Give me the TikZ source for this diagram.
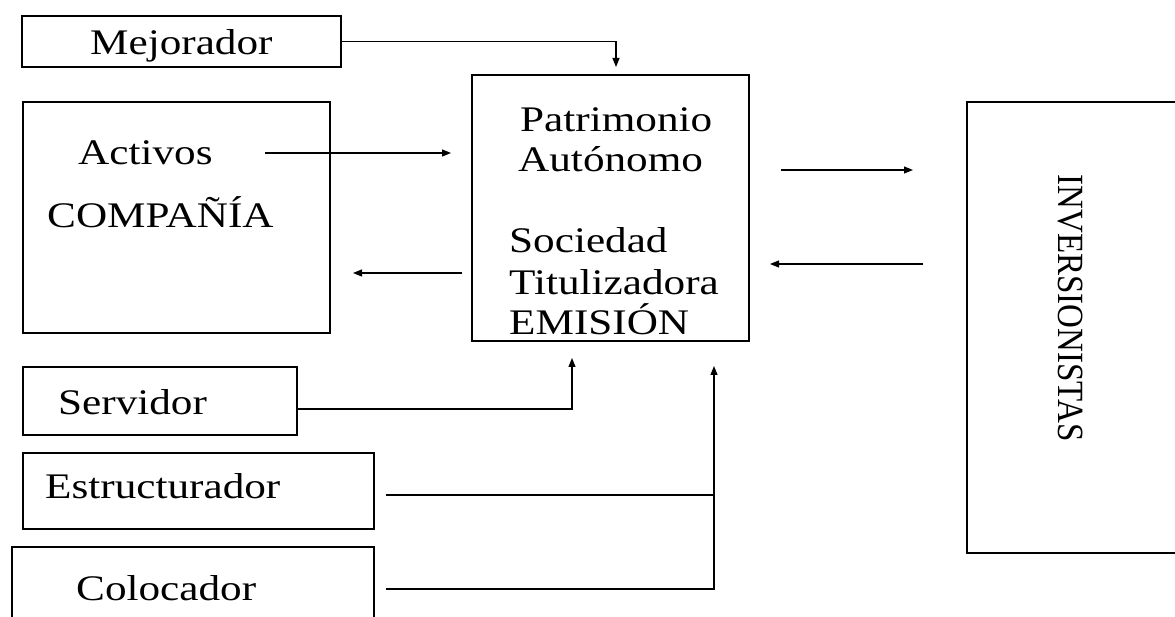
\documentclass[tikz,border=0pt]{standalone}
\usepackage{fontspec}
\setmainfont{Liberation Serif}[FakeStretch=1.2]
\newfontfamily\invfont{Liberation Serif}
\usetikzlibrary{arrows.meta}
\begin{document}
\begin{tikzpicture}[x=1pt,y=-1pt,
  box/.style={draw,line width=1.2pt,rectangle,inner sep=0pt},
  lbl/.style={anchor=base west,inner sep=0pt,font=\fontsize{36}{41}\selectfont},
  conn/.style={line width=1.1pt},
  arr/.style={line width=1.1pt,-{Triangle[length=9pt,width=7pt]}}]
\useasboundingbox (0,0) rectangle (1175,617);
% boxes
\node[box,minimum width=319pt,minimum height=51pt] (mej) at (181.5,41.5) {};
\node[box,minimum width=307pt,minimum height=231pt] (comp) at (176.5,217.5) {};
\node[box,minimum width=277pt,minimum height=266pt] (pat) at (610.5,208) {};
\node[box,minimum width=230pt,minimum height=451pt] (inv) at (1082,327.5) {};
\node[box,minimum width=274pt,minimum height=68pt] (serv) at (160,401) {};
\node[box,minimum width=351pt,minimum height=76pt] (estr) at (198.5,491) {};
\node[box,minimum width=362pt,minimum height=100pt] (col) at (193,597) {};
% texts
\node[lbl] (tmej) at (90,55) {Mejorador};
\node[lbl] (tact) at (78,165) {Activos};
\node[lbl] (tcomp) at (47,228) {COMPAÑÍA};
\node[lbl] (tpat) at (520,132) {Patrimonio};
\node[lbl] (taut) at (518,172) {Autónomo};
\node[lbl] (tsoc) at (509,253) {Sociedad};
\node[lbl] (ttit) at (509,295) {Titulizadora};
\node[lbl] (temi) at (509,335) {EMISIÓN};
\node[lbl] (tserv) at (58,414) {Servidor};
\node[lbl] (testr) at (45,498) {Estructurador};
\node[lbl] (tcol) at (76,600) {Colocador};
\node[inner sep=0pt,rotate=-90,font=\invfont\fontsize{33}{38}\selectfont] (tinv) at (1070,308) {\scalebox{1}[1.12]{INVERSIONISTAS}};
% connector coordinates
\coordinate (mejtip) at (616,67);
\coordinate (a1) at (265,153);
\coordinate (a2) at (451,153);
\coordinate (b1) at (462,273);
\coordinate (b2) at (353,273);
\coordinate (c1) at (781,170);
\coordinate (c2) at (913,170);
\coordinate (d1) at (923,264);
\coordinate (d2) at (770,264);
\coordinate (servtip) at (572,358);
\coordinate (e1) at (386,495);
\coordinate (f1) at (386,589);
\coordinate (colip) at (714,366);
% connectors
\draw[arr] (mej.east) -| (mejtip);
\draw[arr] (a1) -- (a2);
\draw[arr] (b1) -- (b2);
\draw[arr] (c1) -- (c2);
\draw[arr] (d1) -- (d2);
\draw[arr] ([yshift=-8pt]serv.east) -| (servtip);
\draw[conn] (e1) -- (e1 -| colip);
\draw[arr] (f1) -| (colip);
\end{tikzpicture}
\end{document}
